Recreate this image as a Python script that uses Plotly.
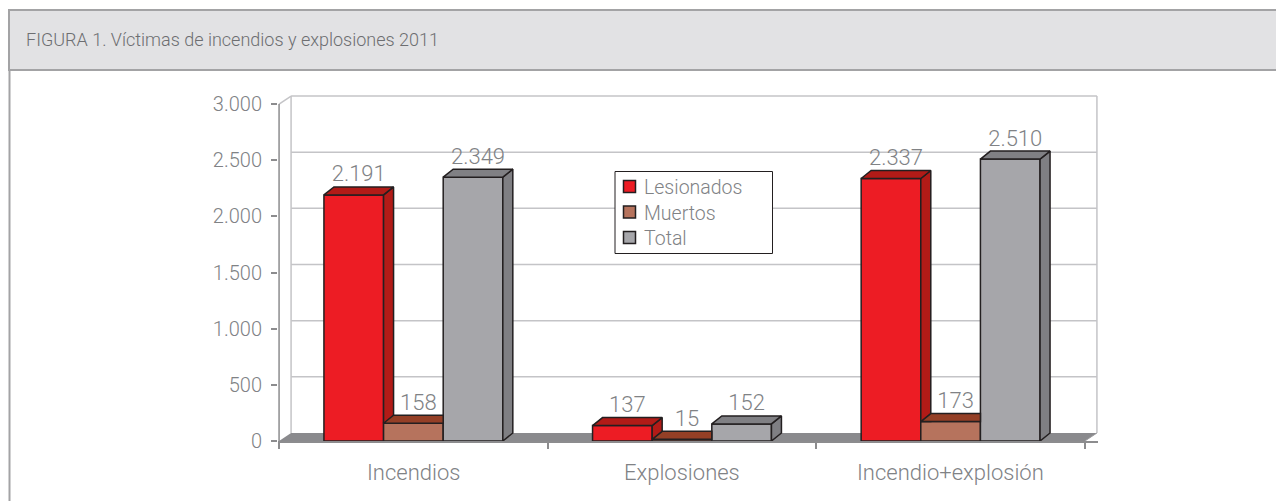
import plotly.graph_objects as go

# ---- data ----
categories = ["Incendios", "Explosiones", "Incendio+explosión"]
series_names = ["Lesionados", "Muertos", "Total"]
lesionados = [2191, 137, 2337]
muertos = [158, 15, 173]
total = [2349, 152, 2510]
y_ticks = [0, 500, 1000, 1500, 2000, 2500, 3000]
title_text = "FIGURA 1. Víctimas de incendios y explosiones 2011"

# ---- styling / geometry ----
front_colors = ["#ed1c24", "#b6735d", "#a6a6aa"]
side_colors = ["#b21b17", "#8e3b22", "#7f7f83"]
top_colors = ["#b21b17", "#943f26", "#808084"]
edge = "#231f20"
txt = "#6d6e71"
lbl = "#808285"
FONT = "Roboto"

W, H = 1284, 501
OFF = 8                      # page body margin
L, R, T, B = 270, 194, 86, 68
plot_w, plot_h = W - L - R, H - T - B

BW = 0.222          # bar width (category units)
DX = 0.0372         # bar depth, x
DY = 71.3           # depth, y units
DXW = 0.0447        # wall depth, x
YMAX = 3000


def px2x(px):
    return (px - OFF - L) / plot_w


def py2y(py):
    return (H - B - (py - OFF)) / plot_h


def fmt(v):
    return f"{v:,}".replace(",", ".")


def side_face(r, h, hn):
    hn = hn or 0
    if hn >= h + DY:
        return []
    t0 = max(0.0, (hn - h) / DY)
    ts = [t0]
    t1 = hn / DY
    if t0 < t1 < 1:
        ts.append(t1)
    ts.append(1.0)
    pts = [(r + t * DX, max(t * DY, hn)) for t in ts]
    pts += [(r + DX, h + DY), (r + t0 * DX, h + t0 * DY)]
    return pts


def top_face(l, r, h, hn):
    if hn is not None and hn > h:
        return [(l, h), (l + DX, h + DY), (r, h + DY), (r, h)]
    return [(l, h), (l + DX, h + DY), (r + DX, h + DY), (r, h)]


def poly_xy(polys):
    xs, ys = [], []
    for p in polys:
        if not p:
            continue
        xs += [q[0] for q in p] + [p[0][0], None]
        ys += [q[1] for q in p] + [p[0][1], None]
    return xs, ys


values = [lesionados, muertos, total]
fig = go.Figure()

# front faces
for k, (name, vals) in enumerate(zip(series_names, values)):
    xs = [i + (k - 1) * BW for i in range(len(categories))]
    fig.add_trace(go.Bar(
        x=xs, y=vals, width=BW, name=name, showlegend=False,
        marker=dict(color=front_colors[k], line=dict(color=edge, width=1.5)),
        hovertemplate="%{y}<extra>" + name + "</extra>",
    ))

# side and top faces
for k, vals in enumerate(values):
    sides, tops = [], []
    for i, h in enumerate(vals):
        c = i + (k - 1) * BW
        l, r = c - BW / 2, c + BW / 2
        hn = values[k + 1][i] if k + 1 < len(values) else None
        sides.append(side_face(r, h, hn))
        tops.append(top_face(l, r, h, hn))
    for polys, col in ((sides, side_colors[k]), (tops, top_colors[k])):
        xs, ys = poly_xy(polys)
        fig.add_trace(go.Scatter(
            x=xs, y=ys, mode="lines", fill="toself", fillcolor=col,
            line=dict(color=edge, width=1.5), showlegend=False, hoverinfo="skip",
        ))

# value labels
for k, vals in enumerate(values):
    fig.add_trace(go.Scatter(
        x=[i + (k - 1) * BW + DX / 2 for i in range(len(vals))],
        y=[v + DY for v in vals],
        mode="text", text=[fmt(v) for v in vals], textposition="top center",
        textfont=dict(family=FONT, size=22, color=lbl, weight=300),
        showlegend=False, hoverinfo="skip",
    ))

shapes = []
# header band and frame
shapes.append(dict(type="rect", xref="paper", yref="paper",
                   x0=px2x(9), x1=px2x(1300), y0=py2y(70), y1=py2y(10),
                   fillcolor="#e2e2e4", line=dict(color="#a3a3a5", width=2), layer="below"))
shapes.append(dict(type="line", xref="paper", yref="paper",
                   x0=px2x(9.5), x1=px2x(9.5), y0=py2y(70), y1=py2y(520),
                   line=dict(color="#a3a3a5", width=2)))

# floor slab
x_left, x_right = -0.5, len(categories) - 0.5
shapes.append(dict(type="path", xref="x", yref="y", layer="below",
                   path=f"M {x_left},0 L {x_left + DXW},{DY} L {x_right + DXW},{DY} L {x_right},0 Z",
                   fillcolor="#8a8a8d", line=dict(width=0)))
# back wall gridlines
wall = "#c4c4c7"
for v in y_ticks[1:]:
    shapes.append(dict(type="line", xref="x", yref="y", layer="below",
                       x0=x_left + DXW, x1=x_right + DXW, y0=v + DY, y1=v + DY,
                       line=dict(color=wall, width=1.5)))
for xe in (x_left + DXW, x_right + DXW):
    shapes.append(dict(type="line", xref="x", yref="y", layer="below",
                       x0=xe, x1=xe, y0=DY, y1=YMAX + DY, line=dict(color=wall, width=1.5)))
shapes.append(dict(type="line", xref="x", yref="y", layer="below",
                   x0=x_left, x1=x_left + DXW, y0=YMAX, y1=YMAX + DY,
                   line=dict(color=wall, width=1.5)))
shapes.append(dict(type="line", xref="x", yref="y", layer="below",
                   x0=x_right, x1=x_right + DXW, y0=0, y1=DY,
                   line=dict(color="#9a9a9d", width=1)))
# front value axis
shapes.append(dict(type="line", xref="x", yref="y",
                   x0=x_left, x1=x_left, y0=0, y1=YMAX,
                   line=dict(color="#8c8c8e", width=1.5)))

# legend box (drawn by hand to match the tight line spacing)
shapes.append(dict(type="rect", xref="paper", yref="paper",
                   x0=px2x(615), x1=px2x(772.5), y0=py2y(253.5), y1=py2y(171.5),
                   fillcolor="white", line=dict(color=edge, width=1)))
legend_rows = [186.5, 212, 237.5]
for k, yc in enumerate(legend_rows):
    shapes.append(dict(type="rect", xref="paper", yref="paper",
                       x0=px2x(623.5), x1=px2x(635.5), y0=py2y(yc + 6), y1=py2y(yc - 6),
                       fillcolor=front_colors[k], line=dict(color=edge, width=1.5)))

annotations = [dict(text=title_text, xref="paper", yref="paper", x=px2x(24), y=py2y(39),
                    xanchor="left", yanchor="middle", showarrow=False,
                    font=dict(family=FONT, size=18, color=txt, weight=300))]
for i, c in enumerate(categories):
    annotations.append(dict(text=c, xref="x", yref="paper", x=i, y=py2y(472),
                            xanchor="center", yanchor="middle", showarrow=False,
                            font=dict(family=FONT, size=22, color=lbl, weight=300)))
for name, yc in zip(series_names, legend_rows):
    annotations.append(dict(text=name, xref="paper", yref="paper", x=px2x(642), y=py2y(yc + 1),
                            xanchor="left", yanchor="middle", showarrow=False,
                            font=dict(family=FONT, size=19.5, color=lbl, weight=300)))

fig.update_layout(
    width=W, height=H,
    margin=dict(l=L, r=R, t=T, b=B, pad=0),
    paper_bgcolor="white", plot_bgcolor="white",
    barmode="overlay", separators=",.",
    font=dict(family=FONT, color=lbl),
    shapes=shapes, annotations=annotations,
    xaxis=dict(range=[x_left - 0.004, x_right + DXW + 0.004], showgrid=False, zeroline=False,
               tickvals=[x_left + j for j in range(len(categories) + 1)], ticks="outside",
               ticklen=6, tickcolor="#8c8c8e", tickwidth=1.5, showticklabels=False,
               showline=True, linecolor="#8c8c8e", linewidth=1.5, fixedrange=True),
    yaxis=dict(range=[0, YMAX + DY + 18], showgrid=False, zeroline=False,
               tickvals=y_ticks, tickformat=",d", ticks="outside", ticklen=6,
               tickcolor="#8c8c8e", tickwidth=1.5, showline=False,
               tickfont=dict(family=FONT, size=20, color=lbl, weight=300),
               ticklabelstandoff=5, fixedrange=True),
    showlegend=False,
)

fig.write_html("out.html")
